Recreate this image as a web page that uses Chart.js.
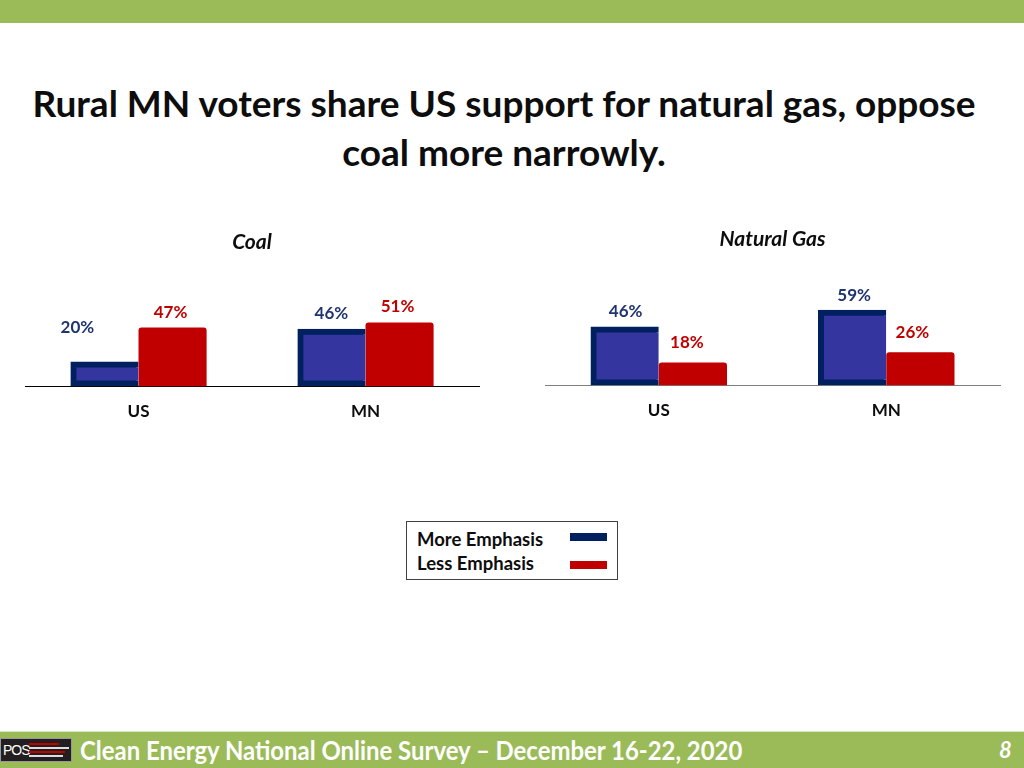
<!DOCTYPE html>
<html>
<head>
<meta charset="utf-8">
<script src="https://cdn.jsdelivr.net/npm/chart.js@4.4.0/dist/chart.umd.min.js"></script>
<style>
  body { margin: 0; width: 1024px; height: 768px; background: #fff; position: relative; overflow: hidden; font-family: Lato, sans-serif; }
  .topbar { position: absolute; left: 0; top: 0; width: 1024px; height: 23px; background: #9BBB59; }
  .title { position: absolute; left: 0; top: 78px; width: 1008px; text-align: center; font-weight: bold; font-size: 37px; line-height: 49px; color: #0d0d0d; }
  canvas { position: absolute; }
  #coalChart { left: 0; top: 222px; }
  #gasChart { left: 512px; top: 219px; }
  .legend { position: absolute; left: 406px; top: 521px; width: 210px; height: 57px; border: 1px solid #404040; }
  .legend .row { position: absolute; left: 10px; font-weight: bold; font-size: 18.5px; line-height: 22px; color: #0d0d0d; }
  .legend .sw { position: absolute; left: 163px; width: 37px; height: 8px; }
  .footer { position: absolute; left: 0; top: 731px; width: 1024px; height: 37px; background: #9BBB59; border-top: 1px solid #d7e4bd; }
  .footer .text { position: absolute; left: 80px; top: 2px; color: #fff; font-weight: bold; font-size: 26px; white-space: nowrap; transform-origin: left center; display: inline-block; }
  .footer .page { position: absolute; left: 999px; top: 4px; color: #fff; font-weight: bold; font-style: italic; font-size: 22px; }
  .logo { position: absolute; left: 0; top: 6px; width: 72px; height: 24px; background: #231f20; border: 1px solid #999; box-sizing: border-box; }
  .logo span { position: absolute; left: 2px; top: 3px; color: #fff; font-family: "Liberation Sans", sans-serif; font-size: 14px; letter-spacing: -1px; }
  .logo i { position: absolute; left: 28px; height: 2px; }
</style>
</head>
<body>
<div class="topbar"></div>
<div class="title">Rural MN voters share US support for natural gas, oppose<br>coal more narrowly.</div>

<canvas id="coalChart" width="512" height="225"></canvas>
<canvas id="gasChart" width="512" height="227"></canvas>

<div class="legend" id="legend"></div>

<div class="footer">
  <div class="logo">
    <span>POS</span>
    <i style="top:4px;width:30px;background:#c00000"></i>
    <i style="top:8px;width:40px;background:#ddd"></i>
    <i style="top:12px;width:36px;background:#c00000"></i>
    <i style="top:16px;width:34px;background:#ddd"></i>
  </div>
  <div class="text" id="footerText">Clean Energy National Online Survey – December 16-22, 2020</div>
  <div class="page">8</div>
</div>

<script>
// categories and series
const categories = ['US', 'MN'];
const seriesNames = ['More Emphasis', 'Less Emphasis'];
const coalMore = [20, 46];
const coalLess = [47, 51];
const gasMore = [46, 59];
const gasLess = [18, 26];

const blueFill = '#3535a0';
const blueEdge = '#002060';
const redFill = '#c00000';
const blueText = '#1f356f';

Chart.defaults.font.family = 'Lato';

// paint navy under the bordered bars so the inner edge doesn't show a light seam
const barUnderlay = {
    id: 'barUnderlay',
    beforeDatasetDraw(chart, args) {
        const ds = chart.data.datasets[args.index];
        if (!ds.underlay) return;
        const ctx = chart.ctx;
        ctx.save();
        ctx.fillStyle = ds.underlay;
        args.meta.data.forEach(bar => {
            const p = bar.getProps(['x', 'y', 'base', 'width'], true);
            ctx.fillRect(p.x - p.width / 2 + 2, p.y + 2, p.width - 4, p.base - p.y - 4);
        });
        ctx.restore();
    }
};

// draws the % labels above each bar, nudged like the original slide
const barLabels = {
    id: 'barLabels',
    afterDatasetsDraw(chart, args, opts) {
        const ctx = chart.ctx;
        ctx.save();
        ctx.font = 'bold 17px Lato';
        ctx.textAlign = 'center';
        ctx.textBaseline = 'middle';
        chart.data.datasets.forEach((ds, i) => {
            const meta = chart.getDatasetMeta(i);
            meta.data.forEach((bar, j) => {
                const off = opts.offsets[i][j];
                ctx.fillStyle = ds.labelColor;
                ctx.fillText(ds.data[j] + '%', bar.x + off[0], bar.y + off[1]);
            });
        });
        ctx.restore();
    }
};

function makeChart(id, title, more, less, cfg) {
    return new Chart(document.getElementById(id), {
        type: 'bar',
        data: {
            labels: categories,
            datasets: [{
                label: seriesNames[0],
                data: more,
                backgroundColor: blueFill,
                borderColor: blueEdge,
                borderWidth: 6,
                borderSkipped: 'right',
                labelColor: blueText,
                underlay: blueEdge
            }, {
                label: seriesNames[1],
                data: less,
                backgroundColor: redFill,
                borderWidth: 0,
                borderRadius: 3,
                labelColor: redFill
            }]
        },
        options: {
            responsive: false,
            animation: false,
            categoryPercentage: 0.6,
            barPercentage: 1,
            layout: {
                padding: { left: cfg.padLeft, right: cfg.padRight, top: 0, bottom: 10 }
            },
            plugins: {
                legend: { display: false },
                tooltip: { enabled: false },
                title: {
                    display: true,
                    text: title,
                    color: '#0d0d0d',
                    font: { size: 21, weight: 'bold', style: 'italic' },
                    padding: { top: cfg.titleTop, bottom: cfg.titleGap }
                },
                barLabels: { offsets: cfg.offsets }
            },
            scales: {
                x: {
                    grid: { display: false, drawTicks: false },
                    border: { display: true, color: cfg.axisColor, width: 1 },
                    ticks: { color: '#0d0d0d', font: { size: 17, weight: 'bold' }, padding: 15 }
                },
                y: {
                    display: false,
                    min: 0,
                    max: 100
                }
            }
        },
        plugins: [barUnderlay, barLabels]
    });
}

makeChart('coalChart', 'Coal', coalMore, coalLess, {
    padLeft: 25, padRight: 33, titleTop: 7.5, titleGap: 6.3, axisColor: '#000',
    offsets: [[[-27, -34], [0, -15]], [[-2, -15], [-2, -16]]]
});

makeChart('gasChart', 'Natural Gas', gasMore, gasLess, {
    padLeft: 33, padRight: 24, titleTop: 7.4, titleGap: 5.4, axisColor: '#7f7f7f',
    offsets: [[[1, -15], [2, -14]], [[-6, -20], [-8, -20]]]
});

// legend box
const legendEl = document.getElementById('legend');
const swatchColors = [blueEdge, redFill];
seriesNames.forEach((name, i) => {
    const row = document.createElement('div');
    row.className = 'row';
    row.style.top = (6 + i * 24) + 'px';
    row.textContent = name;
    legendEl.appendChild(row);
    const sw = document.createElement('div');
    sw.className = 'sw';
    sw.style.top = (11 + i * 28) + 'px';
    sw.style.background = swatchColors[i];
    legendEl.appendChild(sw);
});

// squeeze footer text to the slide's condensed width
const ft = document.getElementById('footerText');
ft.style.transform = 'scaleX(' + (662 / ft.offsetWidth) + ')';
</script>
</body>
</html>
